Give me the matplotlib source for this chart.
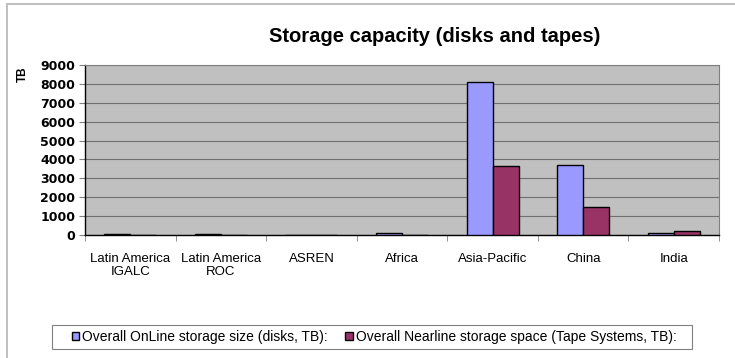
import matplotlib
matplotlib.use("Agg")
import matplotlib.pyplot as plt
import numpy as np
from matplotlib.patches import Rectangle

plt.rcParams['font.family'] = ['Liberation Sans', 'DejaVu Sans']

categories = ["Latin America\nIGALC", "Latin America\nROC", "ASREN", "Africa",
              "Asia-Pacific", "China", "India"]
online = [40, 40, 0, 120, 8100, 3680, 80]
nearline = [0, 0, 0, 0, 3640, 1480, 200]
series_names = ["Overall OnLine storage size (disks, TB):",
                "Overall Nearline storage space (Tape Systems, TB):"]
yticks = [0, 1000, 2000, 3000, 4000, 5000, 6000, 7000, 8000, 9000]

W, H = 735, 358
fig = plt.figure(figsize=(W / 100, H / 100), dpi=100)
fig.patches.append(Rectangle((6.5 / W, -0.05), 1.1, 1.05 - 4.0 / H,
                             transform=fig.transFigure, fill=False,
                             edgecolor='#bfbfbf', linewidth=1.4))
ax = fig.add_axes([85 / W, 1 - 235 / H, 634 / W, 170 / H])
ax.set_facecolor('#C0C0C0')

x = np.arange(len(categories))
w = 0.287
ax.bar(x - w / 2, online, w, color='#9999FF', edgecolor='black', linewidth=1.0,
       label=series_names[0], zorder=3)
ax.bar(x + w / 2, nearline, w, color='#993366', edgecolor='black', linewidth=1.0,
       label=series_names[1], zorder=3)

ax.set_xlim(-0.5, len(categories) - 0.5)
ax.set_ylim(0, 9000)
ax.set_yticks(yticks)
ax.set_yticklabels([str(v) for v in yticks], fontsize=9, fontweight='bold',
                   family=['DejaVu Sans'])
ax.yaxis.grid(True, color='#707070', linewidth=0.8, zorder=0)
ax.set_axisbelow(True)

ax.set_xticks(x)
ax.set_xticklabels(categories, fontsize=9.5, linespacing=1.05)
ax.tick_params(axis='x', length=0, pad=13)
ax.set_xticks(np.arange(-0.5, len(categories), 1.0), minor=True)
ax.tick_params(axis='x', which='minor', length=4, color='#808080', direction='out')
ax.tick_params(axis='y', length=4, color='#808080', direction='out', pad=3)

for s in ['top', 'right']:
    ax.spines[s].set_color('#808080')
    ax.spines[s].set_linewidth(0.8)
ax.spines['left'].set_color('black')
ax.spines['bottom'].set_color('black')
ax.spines['left'].set_linewidth(1.0)
ax.spines['bottom'].set_linewidth(1.0)

fig.text(435 / W, 1 - 41.7 / H, "Storage capacity (disks and tapes)", ha='center',
         va='baseline', fontsize=14.5, fontweight='bold')
fig.text(22.5 / W, 1 - 74.5 / H, "TB", ha='center', va='center', rotation=90,
         fontsize=8.5, fontweight='bold')

# legend box
fig.patches.append(Rectangle((52 / W, 1 - 349 / H), 640 / W, 24 / H,
                             transform=fig.transFigure, facecolor='white',
                             edgecolor='#808080', linewidth=0.8, zorder=1))
leg = fig.legend(loc='center', bbox_to_anchor=(374 / W, 1 - 337 / H), ncol=2,
                 fontsize=10, frameon=False,
                 handlelength=0.55, handleheight=0.55, handletextpad=0.2,
                 columnspacing=1.25, borderpad=0.0, borderaxespad=0)
leg.set_zorder(5)

fig.savefig("out.png", dpi=100)
